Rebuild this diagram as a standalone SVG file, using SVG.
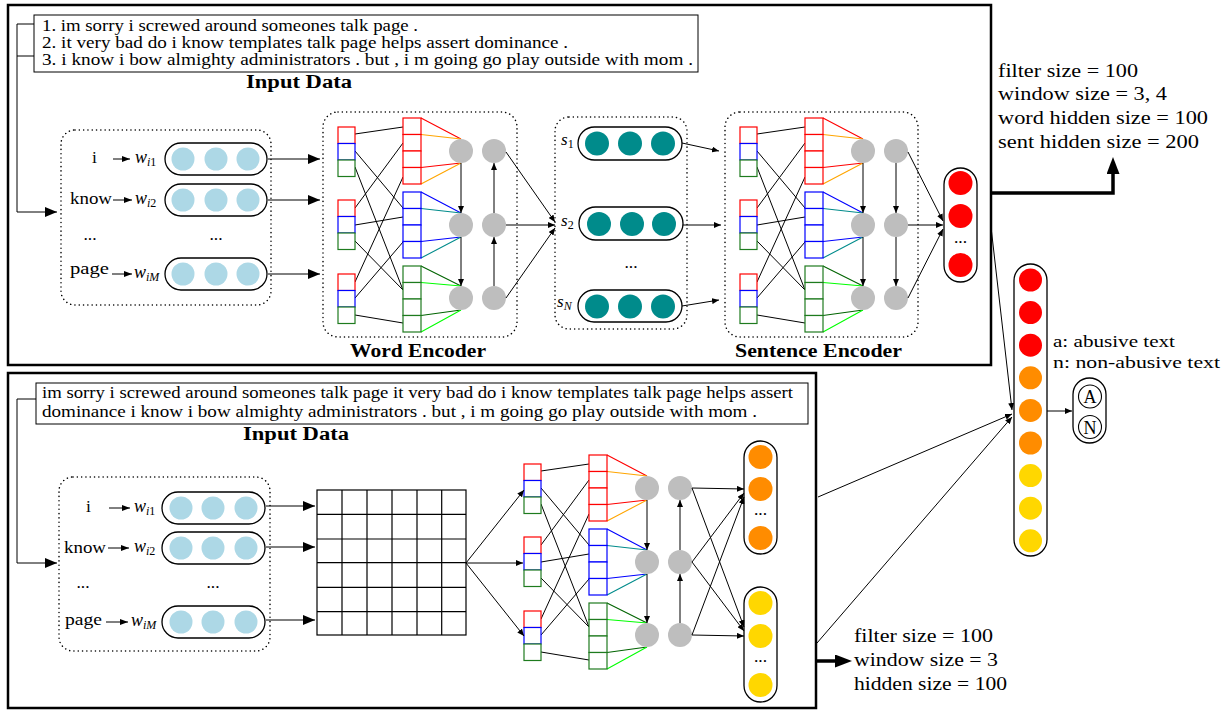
<svg xmlns="http://www.w3.org/2000/svg" width="1222" height="711" viewBox="0 0 1222 711">
<style>
.t{font-family:"Liberation Serif","Times New Roman",serif;fill:#000}
.b{font-weight:bold}
.i{font-style:italic}
.u{font-style:normal}
.ln{fill:none;stroke:#000;stroke-width:1}
.frame{fill:none;stroke:#000;stroke-width:2.5}
.dot{fill:none;stroke:#000;stroke-width:1.5;stroke-dasharray:0.1 4.2;stroke-linecap:round}
.pill{fill:#fff;stroke:#000;stroke-width:1.3}
.lb{fill:#ADD8E6}
.tl{fill:#008B8B}
.gy{fill:#BEBEBE}
.rd{fill:#FF0000}
.or{fill:#FF8C00}
.yl{fill:#FFD700}
</style>
<defs>
<marker id="ah" viewBox="0 0 12 10" refX="12" refY="5" markerWidth="12" markerHeight="10" markerUnits="userSpaceOnUse" orient="auto"><path d="M0,0 L12,5 L0,10 Z"/></marker>
<marker id="as" viewBox="0 0 8 6" refX="8" refY="3" markerWidth="8" markerHeight="6" markerUnits="userSpaceOnUse" orient="auto"><path d="M0,0 L8,3 L0,6 Z"/></marker>
<marker id="am" viewBox="0 0 7 6" refX="7" refY="3" markerWidth="7" markerHeight="6" markerUnits="userSpaceOnUse" orient="auto"><path d="M0,0 L7,3 L0,6 Z"/></marker>
<marker id="at" viewBox="0 0 17 13" refX="5" refY="6.5" markerWidth="17" markerHeight="13" markerUnits="userSpaceOnUse" orient="auto"><path d="M0,0 L17,6.5 L0,13 Z"/></marker>
<g id="sm" fill="#fff" stroke-width="1.2">
<rect x="0" y="0" width="17" height="16.5" stroke="#FF0000"/>
<rect x="0" y="16.5" width="17" height="16.5" stroke="#0000FF"/>
<rect x="0" y="33" width="17" height="16.5" stroke="#1E7B1E"/>
</g>
<g id="big4" fill="#fff" stroke-width="1.2">
<rect x="0" y="0" width="18" height="16.5"/>
<rect x="0" y="16.5" width="18" height="16.5"/>
<rect x="0" y="33" width="18" height="16.5"/>
<rect x="0" y="49.5" width="18" height="16.5"/>
</g>
<g id="encCore">
<path class="ln" d="M17,7 L65,0 M17,24 L65,81 M17,40 L65,163 M17,81 L65,16 M17,98 L65,90 M17,114 L65,163 M17,155 L65,50 M17,171 L65,115 M17,188 L65,196"/>
<g fill="none" stroke-width="1.1">
<path stroke="#FF0000" d="M83,-9 L123,12 M83,40.5 L123,36"/>
<path stroke="#FFA500" d="M83,7.5 L123,12 M83,57 L123,36"/>
<path stroke="#0000FF" d="M83,65 L123,86 M83,114.5 L123,110"/>
<path stroke="#008B8B" d="M83,81.5 L123,86 M83,131 L123,110"/>
<path stroke="#006400" d="M83,139 L123,159 M83,188.5 L123,183"/>
<path stroke="#00FF00" d="M83,155.5 L123,159 M83,205 L123,183"/>
</g>
<use href="#sm" y="0"/>
<use href="#sm" y="73"/>
<use href="#sm" y="147"/>
<use href="#big4" x="65" y="-9" stroke="#FF0000"/>
<use href="#big4" x="65" y="65" stroke="#0000FF"/>
<use href="#big4" x="65" y="139" stroke="#1E7B1E"/>
<g class="gy">
<circle cx="123" cy="24" r="12"/><circle cx="156" cy="24" r="12"/>
<circle cx="123" cy="98" r="12"/><circle cx="156" cy="98" r="12"/>
<circle cx="123" cy="171" r="12"/><circle cx="156" cy="171" r="12"/>
</g>
<path class="ln" stroke-width="1.2" d="M123,36 V86" marker-end="url(#am)"/>
<path class="ln" stroke-width="1.2" d="M123,110 V159" marker-end="url(#am)"/>
</g>
</defs>
<rect width="1222" height="711" fill="#fff"/>

<g id="top-panel"><rect class="frame" x="8" y="5" width="983" height="360"/></g>
<g id="bottom-panel"><rect class="frame" x="8" y="373" width="808" height="335"/></g>

<g id="input-data-top">
<rect x="34" y="15" width="664" height="57" fill="#fff" stroke="#000" stroke-width="1"/>
<text class="t" font-size="16" x="42" y="31" textLength="376" lengthAdjust="spacingAndGlyphs">1. im sorry i screwed around someones talk page .</text>
<text class="t" font-size="16" x="42" y="48" textLength="526" lengthAdjust="spacingAndGlyphs">2. it very bad do i know templates talk page helps assert dominance .</text>
<text class="t" font-size="16" x="42" y="65" textLength="651" lengthAdjust="spacingAndGlyphs">3. i know i bow almighty administrators . but , i m going go play outside with mom .</text>
<text class="t b" font-size="18" x="246" y="88" textLength="106" lengthAdjust="spacingAndGlyphs">Input Data</text>
</g>

<g id="word-embeddings-top">
<rect class="dot" x="61" y="130" width="210" height="175" rx="14"/>
<text class="t" font-size="17.5" x="92" y="163">i</text>
<text class="t" font-size="17.5" x="70" y="204" textLength="42" lengthAdjust="spacingAndGlyphs">know</text>
<text class="t" font-size="17.5" x="90" y="240" text-anchor="middle">...</text>
<text class="t" font-size="17.5" x="70" y="274" textLength="39" lengthAdjust="spacingAndGlyphs">page</text>
<text class="t i" font-size="18" x="135" y="163">w<tspan font-size="12" dy="3">i</tspan><tspan class="u" font-size="12">1</tspan></text>
<text class="t i" font-size="18" x="135" y="204">w<tspan font-size="12" dy="3">i</tspan><tspan class="u" font-size="12">2</tspan></text>
<text class="t i" font-size="18" x="134" y="278">w<tspan font-size="12" dy="3">iM</tspan></text>
<rect class="pill" x="165" y="143" width="102" height="32" rx="16"/>
<rect class="pill" x="165" y="184" width="102" height="32" rx="16"/>
<rect class="pill" x="165" y="258" width="102" height="32" rx="16"/>
<g class="lb">
<circle cx="183" cy="159" r="11.5"/><circle cx="216" cy="159" r="11.5"/><circle cx="248" cy="159" r="11.5"/>
<circle cx="183" cy="200" r="11.5"/><circle cx="216" cy="200" r="11.5"/><circle cx="248" cy="200" r="11.5"/>
<circle cx="183" cy="274" r="11.5"/><circle cx="216" cy="274" r="11.5"/><circle cx="248" cy="274" r="11.5"/>
</g>
<text class="t" font-size="17.5" x="216" y="240" text-anchor="middle">...</text>
</g>

<g id="word-encoder">
<rect class="dot" x="323" y="112" width="194" height="225" rx="15"/>
<use href="#encCore" transform="translate(338,127)"/>
<text class="t b" font-size="18" x="350" y="357" textLength="136" lengthAdjust="spacingAndGlyphs">Word Encoder</text>
</g>

<g id="sentence-vectors">
<rect class="dot" x="555" y="117" width="132" height="212" rx="14"/>
<rect class="pill" x="578" y="127" width="104" height="33" rx="16.5"/>
<rect class="pill" x="579" y="207" width="104" height="33" rx="16.5"/>
<rect class="pill" x="578" y="290" width="104" height="32" rx="16"/>
<g class="tl">
<circle cx="597" cy="143.5" r="12"/><circle cx="630" cy="143.5" r="12"/><circle cx="663" cy="143.5" r="12"/>
<circle cx="599" cy="224" r="12"/><circle cx="632" cy="224" r="12"/><circle cx="664" cy="224" r="12"/>
<circle cx="597" cy="306.5" r="12"/><circle cx="630" cy="306.5" r="12"/><circle cx="663" cy="306.5" r="12"/>
</g>
<text class="t i" font-size="17" x="561" y="145">s<tspan class="u" font-size="12" dy="3">1</tspan></text>
<text class="t i" font-size="17" x="561" y="226">s<tspan class="u" font-size="12" dy="3">2</tspan></text>
<text class="t i" font-size="17" x="557" y="307">s<tspan font-size="12" dy="3">N</tspan></text>
<text class="t" font-size="17.5" x="631" y="268" text-anchor="middle">...</text>
</g>

<g id="sentence-encoder">
<rect class="dot" x="725" y="112" width="193" height="225" rx="15"/>
<use href="#encCore" transform="translate(740,127)"/>
<text class="t b" font-size="18" x="735" y="357" textLength="167" lengthAdjust="spacingAndGlyphs">Sentence Encoder</text>
</g>

<g id="document-vector-top">
<rect class="pill" x="944" y="168" width="33" height="114" rx="16.5"/>
<g class="rd">
<circle cx="960.5" cy="183" r="12"/><circle cx="960.5" cy="216" r="12"/><circle cx="960.5" cy="265" r="12"/>
</g>
<text class="t" font-size="17.5" x="960.5" y="243" text-anchor="middle">...</text>
</g>

<g id="params-top">
<text class="t" font-size="19" x="998" y="77" textLength="140" lengthAdjust="spacingAndGlyphs">filter size = 100</text>
<text class="t" font-size="19" x="998" y="100" textLength="169" lengthAdjust="spacingAndGlyphs">window size = 3, 4</text>
<text class="t" font-size="19" x="998" y="124" textLength="210" lengthAdjust="spacingAndGlyphs">word hidden size = 100</text>
<text class="t" font-size="19" x="998" y="148" textLength="201" lengthAdjust="spacingAndGlyphs">sent hidden size = 200</text>
</g>

<g id="input-data-bottom">
<rect x="36" y="383" width="772" height="41" fill="#fff" stroke="#000" stroke-width="1"/>
<text class="t" font-size="16" x="42" y="398" textLength="751" lengthAdjust="spacingAndGlyphs">im sorry i screwed around someones talk page it very bad do i know templates talk page helps assert</text>
<text class="t" font-size="16" x="42" y="417" textLength="715" lengthAdjust="spacingAndGlyphs">dominance i know i bow almighty administrators . but , i m going go play outside with mom .</text>
<text class="t b" font-size="18" x="243" y="440" textLength="106" lengthAdjust="spacingAndGlyphs">Input Data</text>
</g>

<g id="word-embeddings-bottom">
<rect class="dot" x="59" y="477" width="211" height="174" rx="14"/>
<text class="t" font-size="17.5" x="86" y="512">i</text>
<text class="t" font-size="17.5" x="64" y="553" textLength="42" lengthAdjust="spacingAndGlyphs">know</text>
<text class="t" font-size="17.5" x="83" y="588" text-anchor="middle">...</text>
<text class="t" font-size="17.5" x="65" y="625" textLength="37" lengthAdjust="spacingAndGlyphs">page</text>
<text class="t i" font-size="18" x="134" y="512">w<tspan font-size="12" dy="3">i</tspan><tspan class="u" font-size="12">1</tspan></text>
<text class="t i" font-size="18" x="134" y="552">w<tspan font-size="12" dy="3">i</tspan><tspan class="u" font-size="12">2</tspan></text>
<text class="t i" font-size="18" x="131" y="626">w<tspan font-size="12" dy="3">iM</tspan></text>
<rect class="pill" x="162" y="492" width="103" height="32" rx="16"/>
<rect class="pill" x="162" y="532" width="103" height="32" rx="16"/>
<rect class="pill" x="162" y="606" width="103" height="32" rx="16"/>
<g class="lb">
<circle cx="181" cy="508" r="11.5"/><circle cx="213" cy="508" r="11.5"/><circle cx="246" cy="508" r="11.5"/>
<circle cx="181" cy="548" r="11.5"/><circle cx="213" cy="548" r="11.5"/><circle cx="246" cy="548" r="11.5"/>
<circle cx="181" cy="622" r="11.5"/><circle cx="213" cy="622" r="11.5"/><circle cx="246" cy="622" r="11.5"/>
</g>
<text class="t" font-size="17.5" x="213" y="588" text-anchor="middle">...</text>
</g>

<g id="embedding-matrix">
<rect x="317" y="490" width="149" height="145" fill="#fff" stroke="#000" stroke-width="1.2"/>
<path fill="none" stroke="#000" stroke-width="1.2" d="M342,490 V635 M367,490 V635 M392,490 V635 M417,490 V635 M441.7,490 V635 M317,514.3 H466 M317,539 H466 M317,562.7 H466 M317,587.3 H466 M317,611.7 H466"/>
</g>

<g id="cnn-encoder">
<use href="#encCore" transform="translate(524,464)"/>
</g>

<g id="cnn-output-orange">
<rect class="pill" x="744" y="441" width="33" height="113" rx="16.5"/>
<g class="or">
<circle cx="760.5" cy="457" r="12"/><circle cx="760.5" cy="489" r="12"/><circle cx="760.5" cy="538" r="12"/>
</g>
<text class="t" font-size="17.5" x="760.5" y="515" text-anchor="middle">...</text>
</g>

<g id="cnn-output-yellow">
<rect class="pill" x="744" y="587" width="33" height="115" rx="16.5"/>
<g class="yl">
<circle cx="760.5" cy="603" r="12"/><circle cx="760.5" cy="636" r="12"/><circle cx="760.5" cy="685" r="12"/>
</g>
<text class="t" font-size="17.5" x="760.5" y="662" text-anchor="middle">...</text>
</g>

<g id="params-bottom">
<text class="t" font-size="19" x="854" y="642" textLength="139" lengthAdjust="spacingAndGlyphs">filter size = 100</text>
<text class="t" font-size="19" x="854" y="666" textLength="144" lengthAdjust="spacingAndGlyphs">window size = 3</text>
<text class="t" font-size="19" x="854" y="690" textLength="153" lengthAdjust="spacingAndGlyphs">hidden size = 100</text>
</g>

<g id="final-vector">
<rect class="pill" x="1014" y="264" width="33" height="292" rx="16.5"/>
<circle class="rd" cx="1030.5" cy="280" r="11.5"/>
<circle class="rd" cx="1030.5" cy="312.6" r="11.5"/>
<circle class="rd" cx="1030.5" cy="345.2" r="11.5"/>
<circle class="or" cx="1030.5" cy="377.8" r="11.5"/>
<circle class="or" cx="1030.5" cy="410.4" r="11.5"/>
<circle class="or" cx="1030.5" cy="443" r="11.5"/>
<circle class="yl" cx="1030.5" cy="475.6" r="11.5"/>
<circle class="yl" cx="1030.5" cy="508.2" r="11.5"/>
<circle class="yl" cx="1030.5" cy="540.8" r="11.5"/>
</g>

<g id="legend">
<text class="t" font-size="17" x="1053" y="347" textLength="122" lengthAdjust="spacingAndGlyphs">a: abusive text</text>
<text class="t" font-size="17" x="1053" y="368" textLength="167" lengthAdjust="spacingAndGlyphs">n: non-abusive text</text>
</g>

<g id="output-classes">
<rect class="pill" x="1073" y="378" width="33" height="65" rx="16.5"/>
<circle cx="1090" cy="396.5" r="11.5" fill="#fff" stroke="#000" stroke-width="1.1"/>
<circle cx="1090" cy="427" r="11.5" fill="#fff" stroke="#000" stroke-width="1.1"/>
<text class="t" font-size="18" x="1090" y="403" text-anchor="middle">A</text>
<text class="t" font-size="18" x="1090" y="433.5" text-anchor="middle">N</text>
</g>

<g id="connectors">
<path class="ln" d="M34,24 H17 V212 H57" marker-end="url(#ah)"/>
<path class="ln" d="M17,56 H34"/>
<path class="ln" d="M36,399 H17 V563 H57" marker-end="url(#ah)"/>
<path class="ln" d="M113,159 H130" marker-end="url(#as)"/>
<path class="ln" d="M113,200 H132" marker-end="url(#as)"/>
<path class="ln" d="M112,274 H132" marker-end="url(#as)"/>
<path class="ln" d="M109,508 H130" marker-end="url(#as)"/>
<path class="ln" d="M108,548 H129" marker-end="url(#as)"/>
<path class="ln" d="M106,622 H128" marker-end="url(#as)"/>
<path class="ln" d="M268,159 H320" marker-end="url(#ah)"/>
<path class="ln" d="M268,200 H320" marker-end="url(#ah)"/>
<path class="ln" d="M268,274 H320" marker-end="url(#ah)"/>
<path class="ln" d="M266,506 H315" marker-end="url(#ah)"/>
<path class="ln" d="M266,547 H315" marker-end="url(#ah)"/>
<path class="ln" d="M266,620 H315" marker-end="url(#ah)"/>
<path class="ln" stroke-width="1.2" d="M494,286 V237" marker-end="url(#am)"/>
<path class="ln" stroke-width="1.2" d="M494,213 V163" marker-end="url(#am)"/>
<path class="ln" d="M506,152 L555,222" marker-end="url(#am)"/>
<path class="ln" d="M506,225 L555,225" marker-end="url(#am)"/>
<path class="ln" d="M506,298 L555,228" marker-end="url(#am)"/>
<path class="ln" d="M682,143 L719,151" marker-end="url(#am)"/>
<path class="ln" d="M683,225 L721,225" marker-end="url(#am)"/>
<path class="ln" d="M682,306 L719,300" marker-end="url(#am)"/>
<path class="ln" stroke-width="1.2" d="M896,163 V213" marker-end="url(#am)"/>
<path class="ln" stroke-width="1.2" d="M896,237 V286" marker-end="url(#am)"/>
<path class="ln" d="M908,152 L943,221" marker-end="url(#am)"/>
<path class="ln" d="M908,225 L943,225" marker-end="url(#am)"/>
<path class="ln" d="M908,298 L943,229" marker-end="url(#am)"/>
<path class="ln" d="M466,563 L524,490" marker-end="url(#am)"/>
<path class="ln" d="M466,563 L523,563" marker-end="url(#am)"/>
<path class="ln" d="M466,563 L524,636" marker-end="url(#am)"/>
<path class="ln" stroke-width="1.2" d="M680,623 V574" marker-end="url(#am)"/>
<path class="ln" stroke-width="1.2" d="M680,550 V500" marker-end="url(#am)"/>
<path class="ln" d="M692,488 L744,489" marker-end="url(#am)"/>
<path class="ln" d="M692,488 L744,627" marker-end="url(#am)"/>
<path class="ln" d="M692,562 L744,493" marker-end="url(#am)"/>
<path class="ln" d="M692,562 L744,631" marker-end="url(#am)"/>
<path class="ln" d="M692,635 L744,497" marker-end="url(#am)"/>
<path class="ln" d="M692,635 L744,636" marker-end="url(#am)"/>
<path class="ln" d="M991,227 L1012,410" marker-end="url(#am)"/>
<path class="ln" d="M818,497 L1012,414" marker-end="url(#am)"/>
<path class="ln" d="M817,643 L1012,417" marker-end="url(#am)"/>
<path class="ln" d="M1047,411 H1072" marker-end="url(#am)"/>
<path fill="none" stroke="#000" stroke-width="3.5" d="M992,193 H1113 V169" marker-end="url(#at)"/>
<path fill="none" stroke="#000" stroke-width="3.5" d="M816,661 H840" marker-end="url(#at)"/>
</g>
</svg>
